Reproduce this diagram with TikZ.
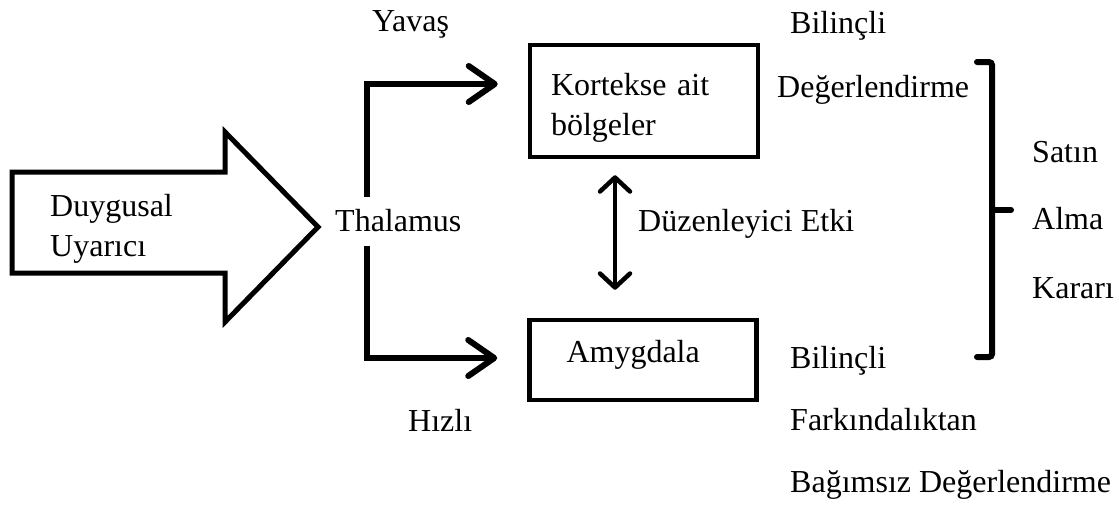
\documentclass[tikz,border=0pt]{standalone}
\usepackage{fontspec}
\setmainfont{Liberation Serif}
\usetikzlibrary{arrows.meta,positioning}

\begin{document}
\begin{tikzpicture}[x=1pt,y=-1pt, line join=miter,
    txt/.style={font=\fontsize{32}{40}\selectfont, inner sep=0pt},
    lbl/.style={txt, anchor=base west},
    box/.style={draw, line width=4.5pt, txt, align=left, inner xsep=20pt},
    flow/.style={line width=6pt, -{Straight Barb[length=26pt,width=36pt,round]}},
    link/.style={line width=4.5pt, {Straight Barb[length=14pt,width=30pt,round]}-{Straight Barb[length=14pt,width=30pt,round]}},
    brace/.style={line width=6pt, line cap=round, rounded corners=3pt}]
    \useasboundingbox (0,0) rectangle (1119,506);

    % uyarici ok
    \draw[line width=5pt] (12,172) -- (225,172) -- (225,132) -- (318,227)
        -- (225,322) -- (225,273) -- (12,273) -- cycle;
    \node[txt, align=left, anchor=west] (stim) at (50,229) {Duygusal\\Uyarıcı};

    \node[lbl] (thal) at (335,231) {Thalamus};
    \node[box, minimum width=228pt, minimum height=112pt, text width=186pt] (kort) at (644,101)
        {\rule{0pt}{35pt}Kortekse ait\\bölgeler};
    \node[box, minimum width=227pt, minimum height=80pt, inner xsep=37pt, text width=153pt] (amyg) at (643,360)
        {\rule[-17pt]{0pt}{17pt}Amygdala};

    % yollar
    \draw[flow] ([xshift=32pt,yshift=12pt]thal.north west) |- ([xshift=-30pt,yshift=17pt]kort.west);
    \draw[flow] ([xshift=32pt,yshift=-14pt]thal.south west) |- ([xshift=-30pt,yshift=2pt]amyg.west);
    \draw[link] ([xshift=-29pt,yshift=-16pt]kort.south) -- ([xshift=-28pt,yshift=28pt]amyg.north);
    \node[lbl] (mod) at (638,231) {Düzenleyici Etki};

    \node[lbl] (slow) at (372,31) {Yavaş};
    \node[lbl] (fast) at (408,431) {Hızlı};
    \node[lbl] (consc) at (790,33) {Bilinçli};
    \node[lbl] (eval) at (777,97) {Değerlendirme};
    \node[lbl] (consc2) at (790,368) {Bilinçli};
    \node[lbl] (aware) at (790,430) {Farkındalıktan};
    \node[lbl] (indep) at (790,492) {Bağımsız Değerlendirme};

    % karar
    \draw[brace] (977,62) -| (992,357) -- (977,357);
    \draw[brace] (992,210) -- (1011,210);
    \node[lbl] (buy) at (1032,162) {Satın};
    \node[lbl] (take) at (1032,229) {Alma};
    \node[lbl] (dec) at (1032,298) {Kararı};
\end{tikzpicture}
\end{document}
